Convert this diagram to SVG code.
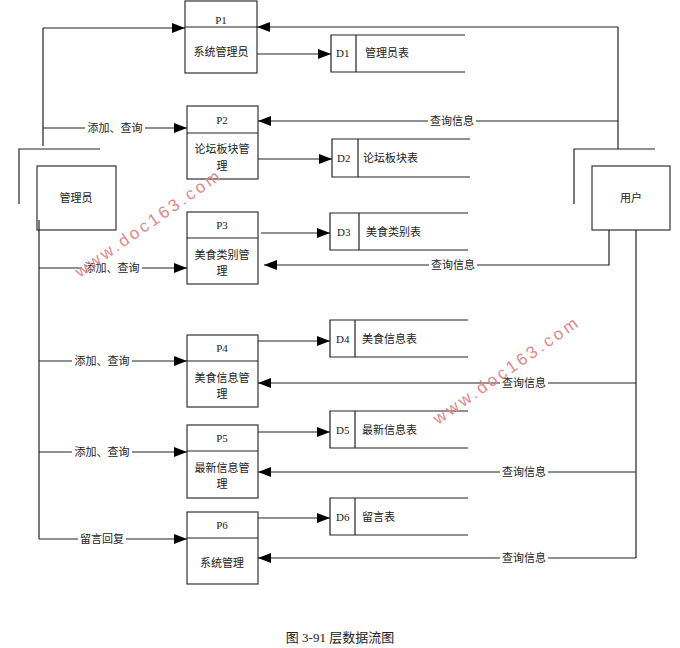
<svg xmlns="http://www.w3.org/2000/svg" width="680" height="648" viewBox="0 0 680 648">
<defs><marker id="a" markerWidth="14" markerHeight="10" refX="13" refY="5" orient="auto" markerUnits="userSpaceOnUse"><path d="M0,0 L13,5 L0,10 z" fill="#000"/></marker>
<style>
.b{fill:#fff;stroke:#333;stroke-width:1.2}
.l{fill:none;stroke:#222;stroke-width:1.2}
.c{stroke:#222;stroke-width:1.2;fill:none;marker-end:url(#a)}
text{font-family:"Liberation Serif","Noto Sans CJK SC",serif;font-size:11px;fill:#222}
.m{text-anchor:middle}
.lb{text-anchor:middle}
.bg{fill:#fff}
.w{font-family:"Liberation Sans",sans-serif;font-size:17px;fill:#e08888;letter-spacing:3px}
</style></defs>
<rect width="680" height="648" fill="#fff"/>
<g id="admin"><path class="l" d="M19,204 V149 H100"/><rect class="b" x="37" y="166" width="79" height="64"/><text class="m" x="76" y="202">管理员</text></g>
<g id="user"><path class="l" d="M574,204 V149 H655"/><rect class="b" x="592" y="166" width="78" height="64"/><text class="m" x="631" y="202">用户</text></g>
<g id="P1"><rect class="b" x="185" y="1" width="72" height="72"/><line class="l" x1="185" y1="27" x2="257" y2="27"/><text class="m" x="221" y="24">P1</text><text class="m" x="221" y="56">系统管理员</text></g>
<g id="P2"><rect class="b" x="187" y="106" width="71" height="73"/><line class="l" x1="187" y1="133" x2="258" y2="133"/><text class="m" x="222" y="124">P2</text><text class="m" x="222" y="153">论坛板块管</text><text class="m" x="222" y="170">理</text></g>
<g id="P3"><rect class="b" x="187" y="212" width="71" height="72"/><line class="l" x1="187" y1="238" x2="258" y2="238"/><text class="m" x="222" y="229">P3</text><text class="m" x="222" y="259">美食类别管</text><text class="m" x="222" y="275">理</text></g>
<g id="P4"><rect class="b" x="187" y="335" width="71" height="72"/><line class="l" x1="187" y1="361" x2="258" y2="361"/><text class="m" x="222" y="352">P4</text><text class="m" x="222" y="382">美食信息管</text><text class="m" x="222" y="398">理</text></g>
<g id="P5"><rect class="b" x="187" y="425" width="71" height="73"/><line class="l" x1="187" y1="451" x2="258" y2="451"/><text class="m" x="222" y="442">P5</text><text class="m" x="222" y="472">最新信息管</text><text class="m" x="222" y="488">理</text></g>
<g id="P6"><rect class="b" x="187" y="512" width="71" height="72"/><line class="l" x1="187" y1="538" x2="258" y2="538"/><text class="m" x="222" y="529">P6</text><text class="m" x="222" y="567">系统管理</text></g>
<g id="D1"><path class="l" d="M465,35 H331 V72 H465 M356,35 V72"/><text x="336" y="57">D1</text><text x="365" y="57">管理员表</text></g>
<g id="D2"><path class="l" d="M470,139 H332 V177 H470 M358,139 V177"/><text x="337" y="162">D2</text><text x="363" y="162">论坛板块表</text></g>
<g id="D3"><path class="l" d="M468,213 H330 V250 H468 M359,213 V250"/><text x="337" y="236">D3</text><text x="366" y="236">美食类别表</text></g>
<g id="D4"><path class="l" d="M468,320 H330 V357 H468 M355,320 V357"/><text x="336" y="343">D4</text><text x="362" y="343">美食信息表</text></g>
<g id="D5"><path class="l" d="M468,411 H330 V448 H468 M355,411 V448"/><text x="336" y="434">D5</text><text x="362" y="434">最新信息表</text></g>
<g id="D6"><path class="l" d="M468,498 H330 V535 H468 M355,498 V535"/><text x="336" y="521">D6</text><text x="362" y="521">留言表</text></g>
<g id="connectors">
<path class="l" d="M43,146 V28"/><path class="c" d="M43,28 H185"/><path class="c" d="M43,128 H187"/>
<path class="l" d="M39,220 V539"/><path class="c" d="M39,268 H187"/><path class="c" d="M39,361 H187"/><path class="c" d="M39,452 H187"/><path class="c" d="M39,539 H187"/>
<path class="c" d="M257,54 H331"/><path class="c" d="M258,159 H332"/><path class="c" d="M261,233 H330"/><path class="c" d="M258,341 H330"/><path class="c" d="M258,432 H330"/><path class="c" d="M258,518 H330"/>
<path class="l" d="M618,149 V27"/><path class="c" d="M618,27 H257"/><path class="c" d="M618,121 H258"/>
<path class="c" d="M609,230 V265 H264"/>
<path class="l" d="M636,230 V558"/><path class="c" d="M636,383 H258"/><path class="c" d="M636,472 H258"/><path class="c" d="M636,558 H258"/>
<rect class="bg" x="85" y="122" width="60" height="12"/><rect class="bg" x="82" y="262" width="60" height="12"/><rect class="bg" x="72" y="355" width="60" height="12"/><rect class="bg" x="72" y="446" width="60" height="12"/><rect class="bg" x="78" y="533" width="48" height="12"/>
<rect class="bg" x="428" y="115" width="48" height="12"/><rect class="bg" x="429" y="259" width="48" height="12"/><rect class="bg" x="500" y="377" width="48" height="12"/><rect class="bg" x="500" y="466" width="48" height="12"/><rect class="bg" x="500" y="552" width="48" height="12"/>
<text class="lb" x="115" y="132">添加、查询</text><text class="lb" x="112" y="272">添加、查询</text><text class="lb" x="102" y="365">添加、查询</text><text class="lb" x="102" y="456">添加、查询</text><text class="lb" x="102" y="543">留言回复</text>
<text class="lb" x="452" y="125">查询信息</text><text class="lb" x="453" y="269">查询信息</text><text class="lb" x="524" y="387">查询信息</text><text class="lb" x="524" y="476">查询信息</text><text class="lb" x="524" y="562">查询信息</text>
</g>
<text class="w" transform="translate(80,278) rotate(-35)">www.doc163.com</text>
<text class="w" transform="translate(438,425) rotate(-35)">www.doc163.com</text>
<text class="m" x="340" y="642" style="font-size:13px">图 3-91 层数据流图</text>
</svg>
